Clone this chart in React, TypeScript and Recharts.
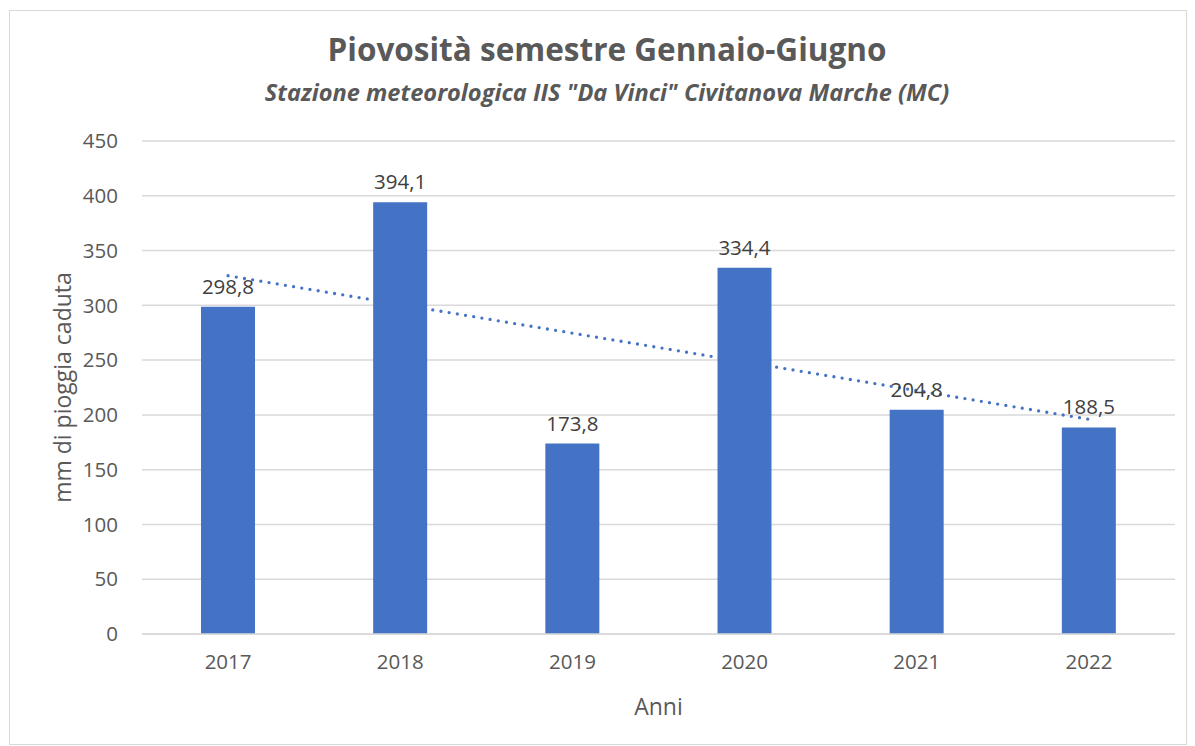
import { ComposedChart, Bar, Line, XAxis, YAxis, CartesianGrid, LabelList, Label } from 'recharts';

const years = ['2017', '2018', '2019', '2020', '2021', '2022'];
const rainfall = [298.8, 394.1, 173.8, 334.4, 204.8, 188.5];
const yTicks = [0, 50, 100, 150, 200, 250, 300, 350, 400, 450];
// linear trendline, start and end values
const trendStart = 327;
const trendEnd = 196;

const data = years.map((year, i) => ({
  year,
  value: rainfall[i],
  trend: i === 0 ? trendStart : i === years.length - 1 ? trendEnd : null,
}));

const FONT = '"Open Sans", sans-serif';
const BLUE = '#4472c4';
const GRID = '#d9d9d9';

const fmt = (v: any) => Number(v).toFixed(1).replace('.', ',');

export default function App() {
  return (
    <div style={{ position: 'absolute', left: 0, top: 0, width: 1195, height: 746, background: '#fff', fontFamily: FONT }}>
      <div
        style={{
          position: 'absolute',
          left: 9,
          top: 10,
          width: 1178,
          height: 735,
          border: `1px solid ${GRID}`,
          boxSizing: 'border-box',
        }}
      />
      <div
        style={{
          position: 'absolute',
          left: 207,
          width: 800,
          top: 27,
          textAlign: 'center',
          fontSize: 31.5,
          fontWeight: 700,
          color: '#595959',
          whiteSpace: 'nowrap',
        }}
      >
        Piovosità semestre Gennaio-Giugno
      </div>
      <div
        style={{
          position: 'absolute',
          left: 107,
          width: 1000,
          top: 76,
          textAlign: 'center',
          fontSize: 23.6,
          fontWeight: 700,
          fontStyle: 'italic',
          color: '#595959',
          whiteSpace: 'nowrap',
        }}
      >
        Stazione meteorologica IIS "Da Vinci" Civitanova Marche (MC)
      </div>
      <div style={{ position: 'absolute', left: 10, top: 11 }}>
        <ComposedChart
          width={1176}
          height={733}
          data={data}
          margin={{ top: 130, right: 11, bottom: 20, left: 0 }}
          barCategoryGap={0}
        >
          <CartesianGrid vertical={false} stroke={GRID} strokeWidth={1.5} />
          <XAxis
            dataKey="year"
            height={90}
            axisLine={{ stroke: GRID, strokeWidth: 1.5 }}
            tickLine={false}
            tickSize={0}
            tickMargin={20}
            tick={{ fill: '#595959', fontSize: 20.5, fontFamily: FONT }}
          >
            <Label value="Anni" position="insideBottom" offset={9} fill="#595959" fontSize={23} fontFamily={FONT} />
          </XAxis>
          <YAxis
            width={132}
            domain={[0, 450]}
            ticks={yTicks}
            interval={0}
            axisLine={false}
            tickLine={false}
            tickSize={0}
            tickMargin={24}
            tick={{ fill: '#595959', fontSize: 20.5, fontFamily: FONT }}
          >
            <Label
              content={({ viewBox }: any) => (
                <text
                  x={viewBox.x + 52}
                  y={viewBox.y + viewBox.height / 2}
                  transform={`rotate(-90 ${viewBox.x + 52} ${viewBox.y + viewBox.height / 2})`}
                  textAnchor="middle"
                  dominantBaseline="central"
                  fill="#595959"
                  fontSize={23}
                  fontFamily={FONT}
                >
                  mm di pioggia caduta
                </text>
              )}
            />
          </YAxis>
          <Bar dataKey="value" fill={BLUE} barSize={54} isAnimationActive={false}>
            <LabelList
              dataKey="value"
              position="top"
              offset={13}
              formatter={fmt}
              fill="#404040"
              fontSize={20.5}
              fontFamily={FONT}
            />
          </Bar>
          <Line
            type="linear"
            dataKey="trend"
            connectNulls
            stroke={BLUE}
            strokeWidth={3.3}
            strokeDasharray="0 8.3"
            strokeLinecap="round"
            dot={false}
            activeDot={false}
            isAnimationActive={false}
          />
        </ComposedChart>
      </div>
    </div>
  );
}
